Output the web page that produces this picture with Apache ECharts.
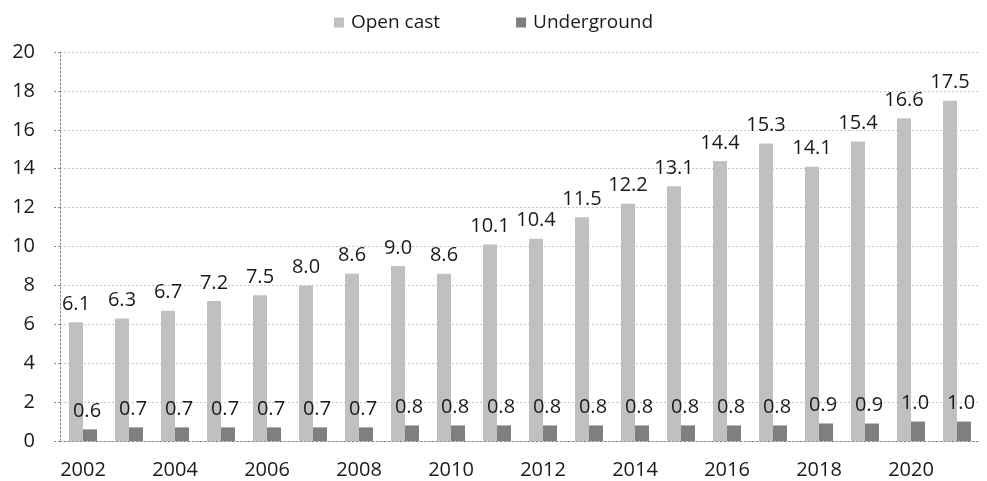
<!DOCTYPE html>
<html>
<head>
<meta charset="utf-8">
<script src="https://cdn.jsdelivr.net/npm/echarts@6/dist/echarts.min.js"></script>
<style>
  html, body { margin: 0; padding: 0; background: #fff; }
  #chart { width: 987px; height: 481px; }
</style>
</head>
<body>
<div id="chart"></div>
<script>
// Annual production by mining method
const years = ['2002','2003','2004','2005','2006','2007','2008','2009','2010','2011',
               '2012','2013','2014','2015','2016','2017','2018','2019','2020','2021'];
const openCast = [6.1, 6.3, 6.7, 7.2, 7.5, 8.0, 8.6, 9.0, 8.6, 10.1,
                  10.4, 11.5, 12.2, 13.1, 14.4, 15.3, 14.1, 15.4, 16.6, 17.5];
const underground = [0.6, 0.7, 0.7, 0.7, 0.7, 0.7, 0.7, 0.8, 0.8, 0.8,
                     0.8, 0.8, 0.8, 0.8, 0.8, 0.8, 0.9, 0.9, 1.0, 1.0];

const FONT = '"Open Sans", "Noto Sans", sans-serif';
const FS = 20;
const chart = echarts.init(document.getElementById('chart'), null, { renderer: 'canvas' });

const labelStyle = {
  show: true,
  position: 'top',
  distance: 8,
  color: '#1a1a1a',
  fontFamily: FONT,
  fontSize: FS,
  formatter: p => p.value.toFixed(1)
};

chart.setOption({
  animation: false,
  textStyle: { fontFamily: FONT },
  legend: {
    top: 8,
    left: 'center',
    itemWidth: 10,
    itemHeight: 10,
    itemGap: 76,
    icon: 'rect',
    textStyle: { fontFamily: FONT, fontSize: 19, color: '#1a1a1a', padding: [0, 0, 0, 2] },
    data: ['Open cast', 'Underground']
  },
  grid: { left: 60, right: 7, top: 52, bottom: 40, containLabel: false },
  xAxis: {
    type: 'category',
    data: years,
    axisLine: { lineStyle: { color: '#888', type: [2, 2], width: 1 } },
    axisTick: { show: false },
    axisLabel: {
      interval: 1,
      margin: 19,
      color: '#1a1a1a',
      fontFamily: FONT,
      fontSize: FS
    }
  },
  yAxis: {
    type: 'value',
    min: 0,
    max: 20,
    interval: 2,
    axisLine: { show: true, lineStyle: { color: '#888', type: [2, 2], width: 1 } },
    axisTick: { show: true, length: 7, lineStyle: { color: '#888', type: [2, 2] } },
    splitLine: { lineStyle: { color: '#c8c8c8', type: [2, 2], width: 1 } },
    axisLabel: {
      margin: 25,
      color: '#1a1a1a',
      fontFamily: FONT,
      fontSize: FS
    }
  },
  series: [
    {
      name: 'Open cast',
      type: 'bar',
      data: openCast,
      barWidth: 14,
      barGap: '0%',
      itemStyle: { color: '#c0c0c0' },
      label: labelStyle
    },
    {
      name: 'Underground',
      type: 'bar',
      data: underground,
      barWidth: 14,
      barGap: '0%',
      itemStyle: { color: '#7f7f7f' },
      label: Object.assign({}, labelStyle, { offset: [-3, 0] })
    }
  ]
});
</script>
</body>
</html>
